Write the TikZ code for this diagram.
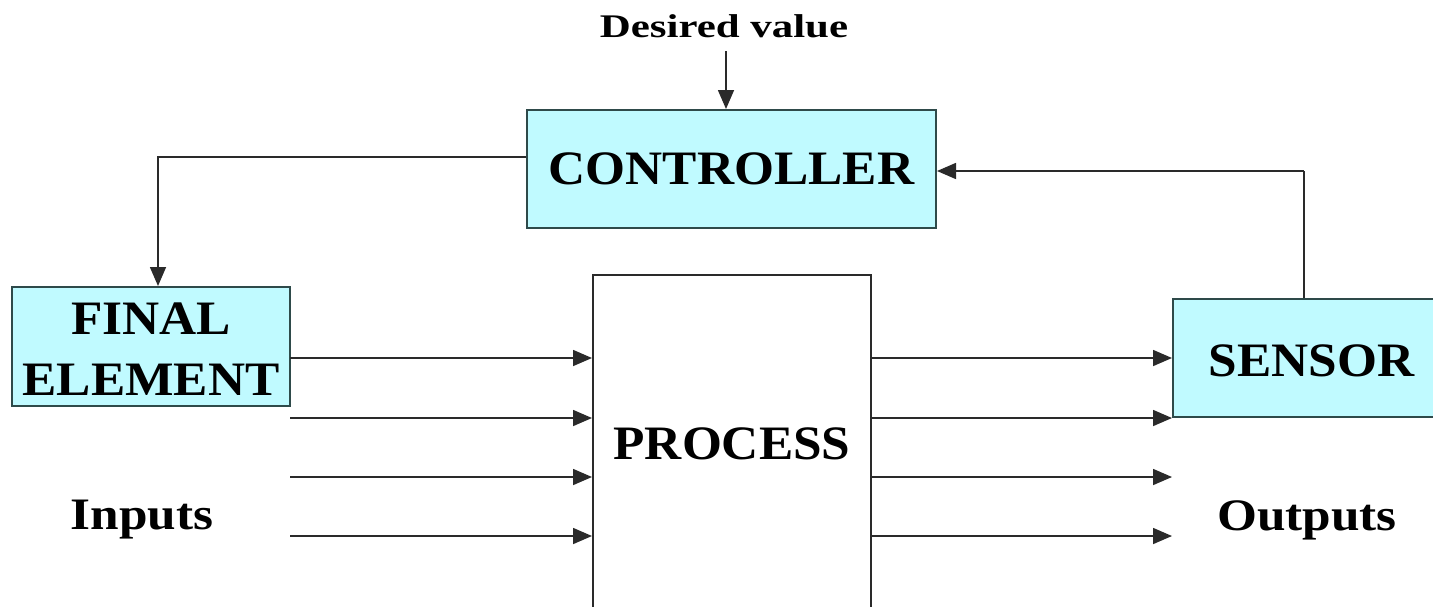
\documentclass[tikz,border=0pt]{standalone}
\usepackage{fontspec}
\setmainfont{Liberation Serif}[FakeStretch=1.07]
\newfontfamily\labelfont{Liberation Serif}[FakeStretch=1.14]
\newfontfamily\setpointfont{Liberation Serif}[FakeStretch=1.3]
\usetikzlibrary{arrows.meta}
\definecolor{boxfill}{HTML}{C0FAFF}
\definecolor{boxline}{HTML}{2E4A4A}
\definecolor{wire}{HTML}{2A2A2A}
\tikzset{
  block/.style={draw=boxline, line width=2pt, fill=boxfill, inner sep=0pt,
    align=center, font=\bfseries\fontsize{48}{62}\selectfont},
  plain/.style={draw=wire, line width=2pt, fill=white, inner sep=0pt},
  flow/.style={draw=wire, line width=1.6pt,
    -{Triangle[length=19pt,width=16pt]}},
  wireline/.style={draw=wire, line width=1.6pt},
  caption/.style={inner sep=0pt, font=\labelfont\bfseries\fontsize{45}{54}\selectfont},
  bigtext/.style={inner sep=0pt, font=\bfseries\fontsize{48}{58}\selectfont},
}
\begin{document}
\begin{tikzpicture}[x=1pt,y=-1pt]
\clip (0,0) rectangle (1433,606);
\fill[white] (0,0) rectangle (1433,606);

% blocks
\node[plain, minimum width=278pt, minimum height=360pt] (proc) at (732,455) {};
\node[bigtext] (proctext) at (732,443.5) {PROCESS};
\node[block, minimum width=409pt, minimum height=118pt] (ctrl) at (731.5,169) {CONTROLLER};
\node[block, minimum width=278pt, minimum height=119pt] (final) at (151,346.5) {};
\node[bigtext, align=center, font=\bfseries\fontsize{48}{61}\selectfont] (finaltext) at (151,349) {FINAL\\ELEMENT};
\node[block, minimum width=270pt, minimum height=118pt] (sensor) at (1308,358) {};
\node[bigtext] (sensortext) at (1311.5,361) {SENSOR};

% labels
\node[inner sep=0pt, anchor=base, font=\setpointfont\bfseries\fontsize{33}{40}\selectfont] (setpoint) at (724,37) {Desired value};
\node[caption, anchor=base] (inputs) at (142,529) {Inputs};
\node[caption, anchor=base] (outputs) at (1307,530) {Outputs};

% set point into the controller
\coordinate (sp) at (726,51);
\draw[flow] (sp) -- (sp |- ctrl.north);

% controller to final element
\coordinate (cout) at (ctrl.west |- 0,157);
\coordinate (fin) at (158,0);
\draw[flow] (cout) -- (fin |- cout) -- (fin |- final.north);

% sensor feedback to controller
\coordinate (sfb) at (1304,0);
\coordinate (cin) at (0,171);
\draw[wireline] (sfb |- sensor.north) -- (sfb |- cin);
\draw[flow] (sfb |- cin) -- (cin -| ctrl.east);

% inputs into and outputs out of the process
\foreach \yy/\nm in {358/a,418/b,477/c,536/d}{
  \coordinate (in\nm) at (290,\yy);
  \coordinate (out\nm) at (1172,\yy);
  \draw[flow] (in\nm) -- (in\nm -| proc.west);
  \draw[flow] (in\nm -| proc.east) -- (out\nm);
}
\end{tikzpicture}
\end{document}
